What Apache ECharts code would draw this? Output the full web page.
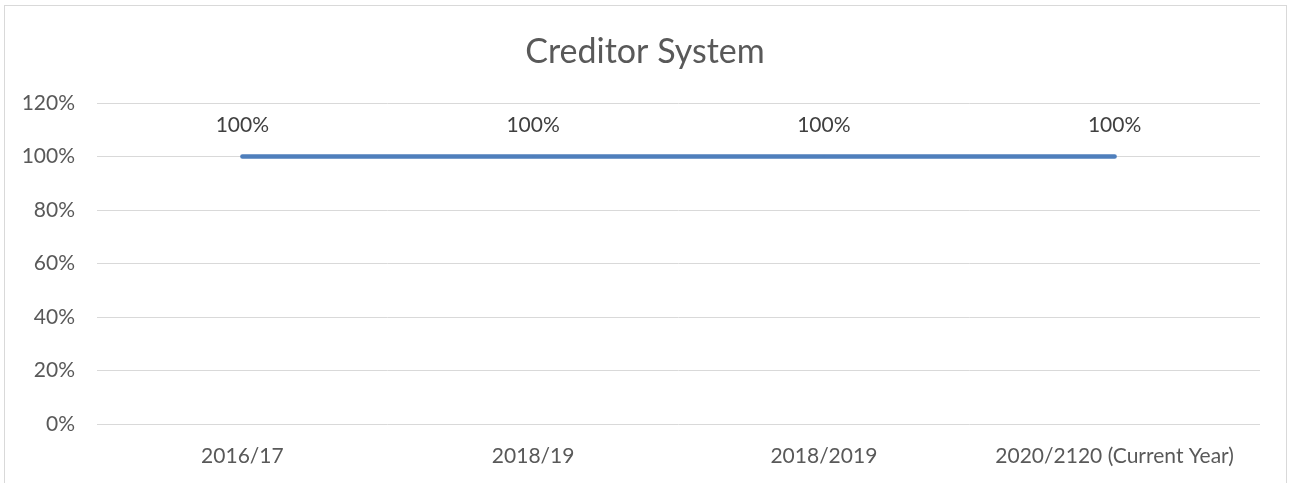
<!DOCTYPE html>
<html>
<head>
<meta charset="utf-8">
<script src="https://cdn.jsdelivr.net/npm/echarts@6/dist/echarts.min.js"></script>
<style>
  html, body { margin: 0; padding: 0; background: #fff; }
  #frame {
    position: absolute; left: 4px; top: 5px;
    width: 1283px; height: 490px;
    border: 1px solid #d9d9d9; box-sizing: border-box;
  }
  #chart { position: absolute; left: 0; top: 0; width: 1290px; height: 483px; }
</style>
</head>
<body>
<div id="frame"></div>
<div id="chart"></div>
<script>
const categories = ['2016/17', '2018/19', '2018/2019', '2020/2120 (Current Year)']
const values = [1, 1, 1, 1]
const yTicks = [0, 0.2, 0.4, 0.6, 0.8, 1, 1.2]

const myChart = echarts.init(document.getElementById('chart'))
const font = 'Lato, "Open Sans", sans-serif'

const option = {
    animation: false,
    title: {
        text: 'Creditor System',
        left: 'center',
        top: 30,
        textStyle: {
            fontFamily: font,
            fontSize: 34,
            fontWeight: 'normal',
            color: '#595959'
        }
    },
    grid: {
        left: 97,
        right: 30,
        top: 103,
        bottom: 59
    },
    xAxis: {
        type: 'category',
        data: categories,
        boundaryGap: true,
        axisLine: { show: false },
        axisTick: { show: false },
        axisLabel: {
            interval: 0,
            hideOverlap: false,
            color: '#595959',
            fontFamily: font,
            fontSize: 21,
            margin: 22
        }
    },
    yAxis: {
        type: 'value',
        min: yTicks[0],
        max: yTicks[yTicks.length - 1],
        interval: 0.2,
        axisLine: { show: false },
        axisTick: { show: false },
        splitLine: { lineStyle: { color: '#d9d9d9', width: 1 } },
        axisLabel: {
            color: '#595959',
            fontFamily: font,
            fontSize: 21,
            margin: 22,
            formatter(v) {
                return `${Math.round(v * 100)}%`
            }
        }
    },
    series: [{
        type: 'line',
        data: values,
        symbol: 'circle',
        symbolSize: 2,
        showSymbol: true,
        itemStyle: { color: '#4f7fbc', borderWidth: 0 },
        lineStyle: { color: '#4f7fbc', width: 4.5, cap: 'round' },
        label: {
            show: true,
            position: 'top',
            distance: 20,
            color: '#404040',
            fontFamily: font,
            fontSize: 21,
            formatter(p) {
                return `${Math.round(p.value * 100)}%`
            }
        },
        labelLayout: { hideOverlap: false }
    }]
}

myChart.setOption(option)
</script>
</body>
</html>
